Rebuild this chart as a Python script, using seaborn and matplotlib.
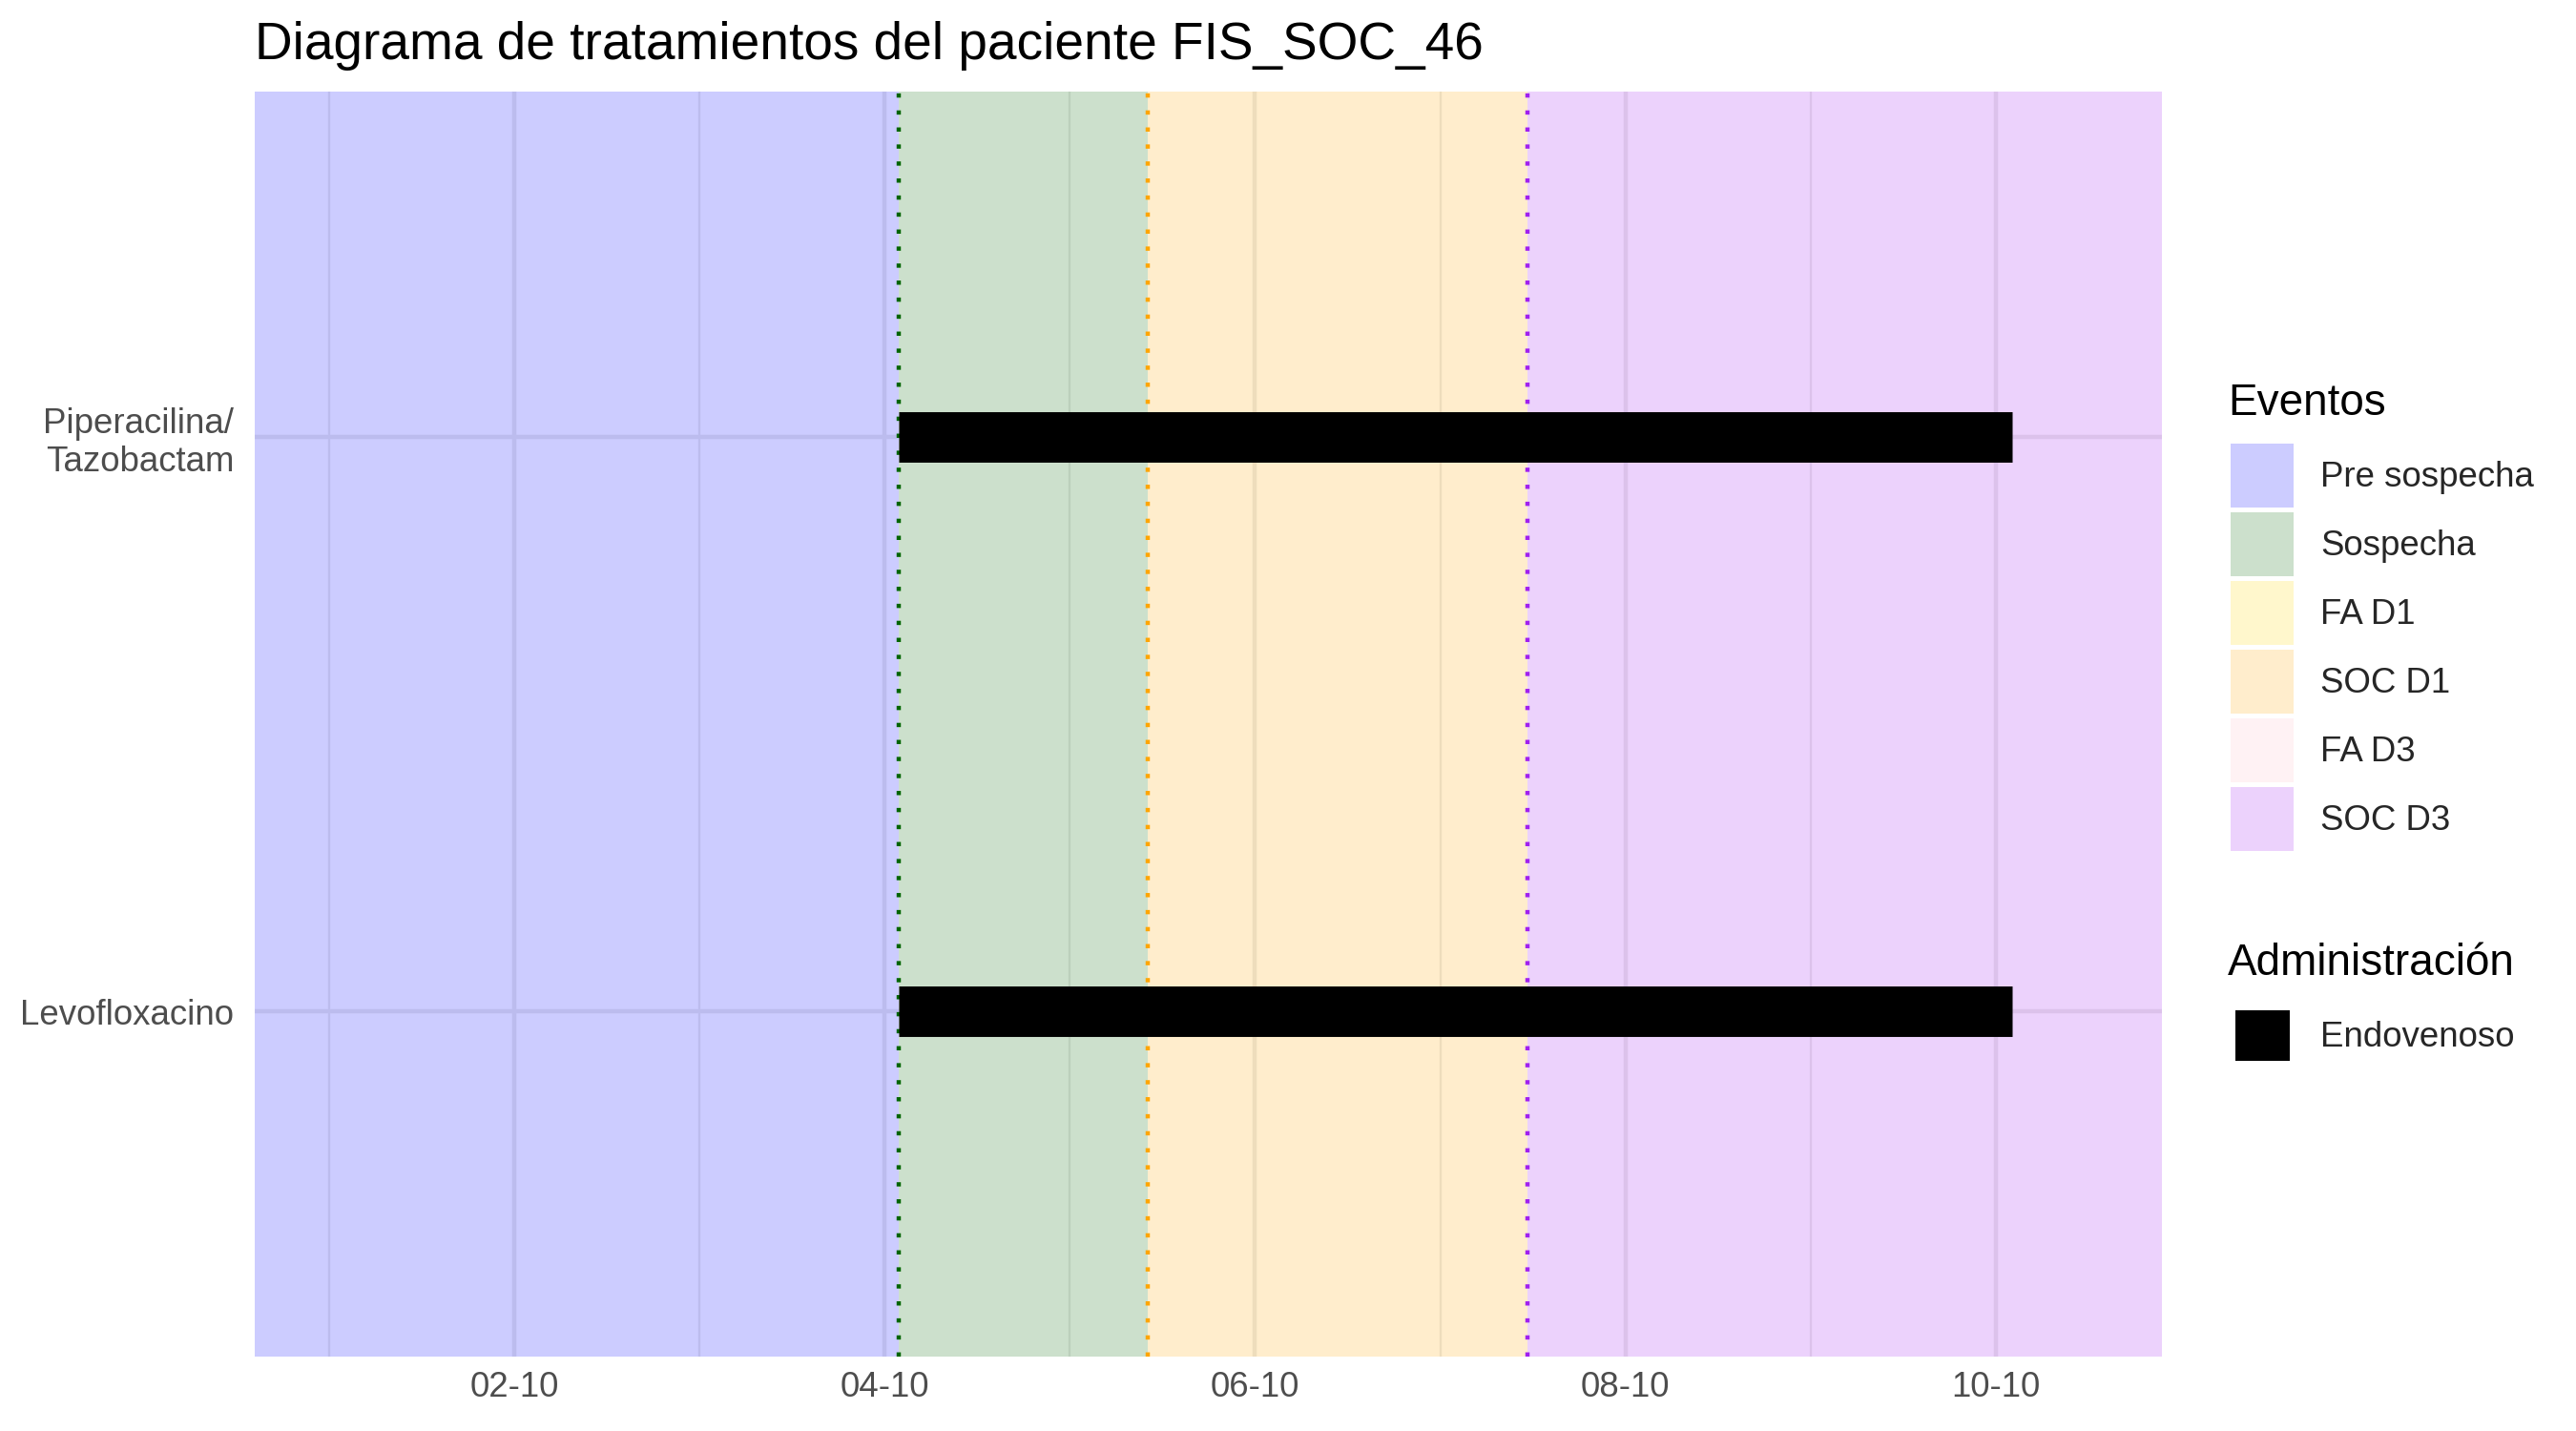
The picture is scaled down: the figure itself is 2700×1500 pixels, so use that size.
import pandas as pd
import matplotlib.pyplot as plt
import matplotlib.dates as mdates
from matplotlib.patches import Patch
from matplotlib.colors import to_rgba
import seaborn as sns

sns.set_theme(style='white')
plt.rcParams['font.family'] = ['Liberation Sans', 'DejaVu Sans']

titulo = 'Diagrama de tratamientos del paciente FIS_SOC_46'

# farmacos en orden de abajo hacia arriba (como ggplot)
farmacos = ['Levofloxacino', 'Piperacilina/\nTazobactam']
inicio_trat = ['2023-10-04 01:50', '2023-10-04 01:50']
fin_trat = ['2023-10-10 02:08', '2023-10-10 02:08']
via = ['Endovenoso', 'Endovenoso']

eventos = ['Pre sospecha', 'Sospecha', 'FA D1', 'SOC D1', 'FA D3', 'SOC D3']
colores_eventos = ['#0000FF', '#006400', '#FFD700', '#FFA500', '#FFC0CB', '#A020F0']
inicio_eventos = ['2023-10-01 01:36', '2023-10-04 01:50', None, '2023-10-05 10:08', None, '2023-10-07 11:18']
fin_episodio = '2023-10-10 10:18'

ticks_mayores = ['2023-10-02', '2023-10-04', '2023-10-06', '2023-10-08', '2023-10-10']
ticks_menores = ['2023-10-01', '2023-10-03', '2023-10-05', '2023-10-07', '2023-10-09']

gris = '#EBEBEB'
fig = plt.figure(figsize=(9, 5), dpi=300)
ax = fig.add_axes([267 / 2700, 1 - 1422 / 1500, (2266 - 267) / 2700, (1422 - 96) / 1500])

# limites con expansion del 5% como ggplot
t0 = pd.Timestamp(inicio_eventos[0])
t1 = pd.Timestamp(fin_episodio)
lo = t0 - 0.05 * (t1 - t0)
hi = t1 + 0.05 * (t1 - t0)

# tramos de eventos
validos = [(e, c, pd.Timestamp(s)) for e, c, s in zip(eventos, colores_eventos, inicio_eventos) if s is not None]
for i, (e, c, s) in enumerate(validos):
    a = lo if i == 0 else s
    b = validos[i + 1][2] if i + 1 < len(validos) else hi
    ax.axvspan(a, b, color=c, alpha=0.2, lw=0, zorder=1)
    if i > 0:
        ax.axvline(s, color=c, lw=1.07, linestyle=(0, (1, 3)), zorder=2)

# tratamientos
pos = {f: i for i, f in enumerate(farmacos)}
df = pd.DataFrame({
    'farmaco': farmacos * 2,
    'fecha': pd.to_datetime(inicio_trat + fin_trat),
    'via': via * 2,
})
df['y'] = df['farmaco'].map(pos)
sns.lineplot(data=df, x='fecha', y='y', units='farmaco', estimator=None, color='black',
             linewidth=12.7, solid_capstyle='butt', legend=False, ax=ax, zorder=3)

ax.set_xlim(lo, hi)
ax.set_ylim(-0.6, len(farmacos) - 0.4)
ax.set_yticks(range(len(farmacos)))
ax.set_yticklabels(farmacos)
ax.set_xticks(pd.to_datetime(ticks_mayores))
ax.set_xticks(pd.to_datetime(ticks_menores), minor=True)
ax.xaxis.set_major_formatter(mdates.DateFormatter('%d-%m'))
ax.set_xlabel('')
ax.set_ylabel('')
ax.set_axisbelow(True)
ax.grid(which='major', color=gris, lw=1.07)
ax.grid(which='minor', axis='x', color=gris, lw=0.53)
ax.tick_params(axis='both', which='both', length=0, labelsize=8.8, labelcolor='#4D4D4D')
ax.tick_params(axis='x', pad=3.5)
ax.tick_params(axis='y', pad=5.2)
for sp in ax.spines.values():
    sp.set_visible(False)

ax.set_title(titulo, loc='left', fontsize=13.2, pad=8.2, color='black')

# leyendas
fig.text(2335 / 2700, 1 - 435 / 1500, 'Eventos', fontsize=11, va='baseline', ha='left', color='black')
h_ev = [Patch(facecolor=to_rgba(c, 0.2), edgecolor='none', label=e) for e, c in zip(eventos, colores_eventos)]
fig.legend(handles=h_ev, loc='upper left', bbox_to_anchor=(2338 / 2700, 1 - 465 / 1500),
           frameon=False, fontsize=8.8, handlelength=1.8, handleheight=2.434, labelspacing=0.136,
           handletextpad=0.76, borderpad=0, borderaxespad=0)

fig.text(2335 / 2700, 1 - 1022 / 1500, 'Administración', fontsize=11, va='baseline', ha='left', color='black')
h_via = [Patch(facecolor='black', edgecolor='none', label=via[0])]
fig.legend(handles=h_via, loc='upper left', bbox_to_anchor=(2343 / 2700, 1 - 1059 / 1500),
           frameon=False, fontsize=8.8, handlelength=1.55, handleheight=1.847,
           handletextpad=0.87, borderpad=0, borderaxespad=0)

fig.savefig('out.png', dpi=300, facecolor='white')
